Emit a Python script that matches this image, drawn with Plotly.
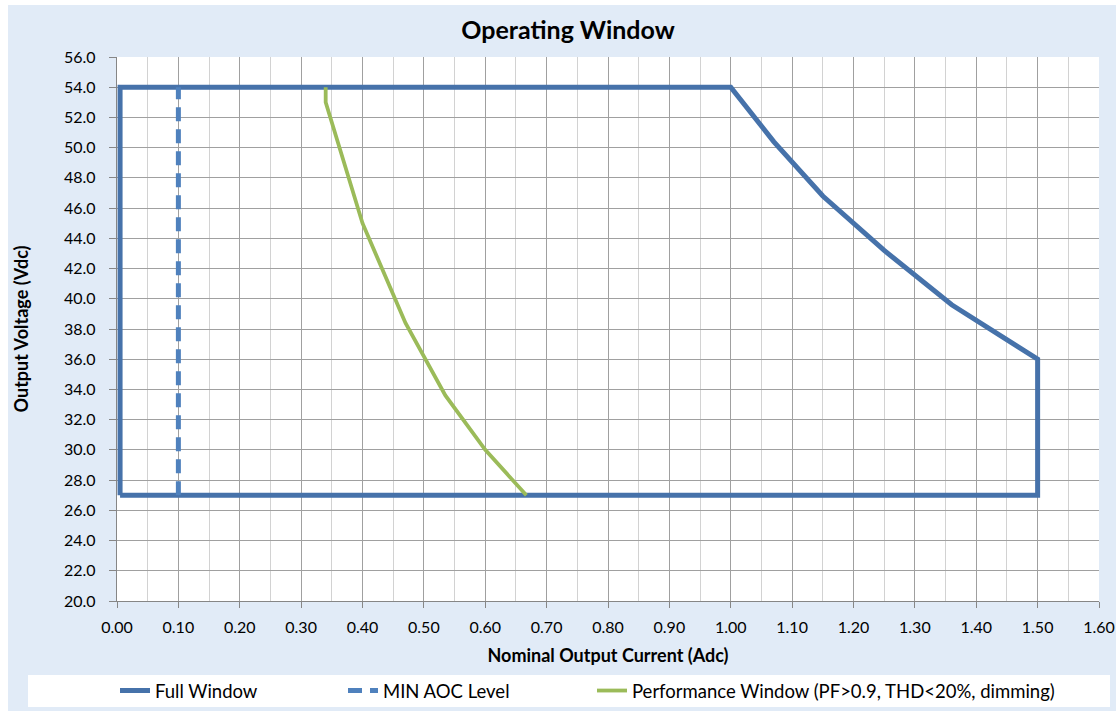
import plotly.graph_objects as go

# Full operating window (current A, voltage V)
full_current = [0.005, 0.005, 1.00, 1.07, 1.15, 1.25, 1.36, 1.50, 1.50, 0.005]
full_voltage = [27.0, 54.0, 54.0, 50.4, 46.8, 43.2, 39.6, 36.0, 27.0, 27.0]

# Minimum AOC level
aoc_current = [0.10, 0.10]
aoc_voltage = [27.0, 54.0]

# Performance window
perf_current = [0.34, 0.34, 0.40, 0.47, 0.535, 0.60, 0.667]
perf_voltage = [54.0, 53.0, 45.0, 38.4, 33.6, 30.0, 27.0]

x_ticks = [i / 10 for i in range(0, 17)]
y_ticks = list(range(20, 57, 2))

FONT = "Lato"
BG = "#E1EBF7"
W, H = 1116, 711
L, R, T, B = 117, 17, 57, 110
PW, PH = W - L - R, H - T - B


def px_x(px):
    return (px - L) / PW


def px_y(py):
    return (H - B - py) / PH


fig = go.Figure()
fig.add_trace(go.Scatter(x=full_current, y=full_voltage, mode="lines", name="Full Window",
                         line=dict(color="#4672AA", width=5), legend="legend"))
fig.add_trace(go.Scatter(x=aoc_current, y=aoc_voltage, mode="lines", name="MIN AOC Level",
                         line=dict(color="#4F81BD", width=5, dash="14px,8px"), legend="legend2"))
fig.add_trace(go.Scatter(x=perf_current, y=perf_voltage, mode="lines",
                         name="Performance Window (PF>0.9, THD<20%, dimming)",
                         line=dict(color="#9BBB59", width=3.8), legend="legend3"))

# legend box and outer white frame strips
fig.add_shape(type="rect", xref="paper", yref="paper", x0=px_x(28), x1=px_x(1110),
              y0=px_y(707), y1=px_y(675), fillcolor="white", line=dict(width=0), layer="below")
fig.add_shape(type="rect", xref="paper", yref="paper", x0=px_x(0), x1=px_x(8),
              y0=px_y(711), y1=px_y(0), fillcolor="white", line=dict(width=0), layer="below")
fig.add_shape(type="rect", xref="paper", yref="paper", x0=px_x(0), x1=px_x(1116),
              y0=px_y(5), y1=px_y(0), fillcolor="white", line=dict(width=0), layer="below")

leg_common = dict(orientation="h", xanchor="left", y=px_y(691), yanchor="middle",
                  bgcolor="rgba(0,0,0,0)", font=dict(family=FONT, size=18.5, color="black"))

fig.update_layout(
    width=W, height=H,
    paper_bgcolor=BG, plot_bgcolor="white",
    margin=dict(l=L, r=R, t=T, b=B, autoexpand=False),
    title=dict(text="<b>Operating Window</b>", x=px_x(568), xanchor="center", xref="paper",
               y=(H - 30) / H, yanchor="middle",
               font=dict(family=FONT, size=25, color="black")),
    font=dict(family=FONT, color="black"),
    showlegend=True,
    legend=dict(x=px_x(155 - 40), **leg_common),
    legend2=dict(x=px_x(383 - 40), **leg_common),
    legend3=dict(x=px_x(632 - 40), **leg_common),
)

fig.update_xaxes(range=[0, 1.6], tickvals=x_ticks, ticktext=[f"{v:.2f}" for v in x_ticks],
                 automargin=False,
                 showgrid=True, gridcolor="#A0A0A0", gridwidth=1.3,
                 minor=dict(dtick=0.05, tick0=0, showgrid=True, gridcolor="#D2D2D2", gridwidth=1.3, ticks=""),
                 showline=True, linecolor="#868686", linewidth=1.3,
                 ticks="outside", ticklen=6, tickcolor="#868686", ticklabelstandoff=6,
                 tickfont=dict(family=FONT, size=16, color="black"), zeroline=False,
                 title=dict(text="<b>Nominal Output Current (Adc)</b>", standoff=14,
                            font=dict(family=FONT, size=18, color="black")))
fig.update_yaxes(range=[20, 56], tickvals=y_ticks, ticktext=[f"{v:.1f}" for v in y_ticks],
                 automargin=False,
                 showgrid=True, gridcolor="#A0A0A0", gridwidth=1.3,
                 showline=True, linecolor="#868686", linewidth=1.3,
                 ticks="outside", ticklen=7, tickcolor="#868686", ticklabelstandoff=10,
                 tickfont=dict(family=FONT, size=16, color="black"), zeroline=False,
                 title=dict(text="<b>Output Voltage (Vdc)</b>", standoff=30,
                            font=dict(family=FONT, size=18, color="black")))

fig.write_html("out.html", config={"displayModeBar": False},
               post_script="document.body.style.margin='0';document.body.style.background='" + BG + "';")
